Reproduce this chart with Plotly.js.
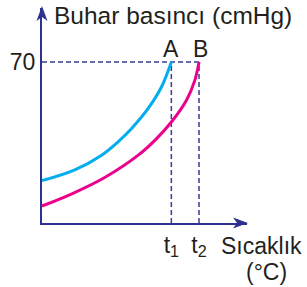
<!DOCTYPE html>
<html>
<head>
<meta charset="utf-8">
<script src="https://cdn.plot.ly/plotly-3.0.1.min.js"></script>
<style>html,body{margin:0;padding:0;background:#fff;}#chart{width:307px;height:287px;}</style>
</head>
<body>
<div id="chart"></div>
<script>
// ---- data ----
const blueX = [0, 1.60, 2.89, 3.71, 4.36, 5.17, 5.82, 6.31];
const blueY = [18.4, 23.1, 29.4, 35.3, 41.0, 49.7, 59.0, 70];
const pinkX = [0, 1.43, 3.06, 4.68, 5.58, 6.31, 7.04, 7.45, 7.66];
const pinkY = [7.4, 12.6, 19.8, 29.4, 36.6, 43.9, 53.3, 61.9, 70];
const tempTicks = [6.31, 7.66];
const tempTickText = ['t<sub>1</sub>', 't<sub>2</sub>'];
const pressureTicks = [70];
const pressureTickText = ['70'];
const pointLabels = ['A', 'B'];
const yTitle = 'Buhar basıncı (cmHg)';
const xTitle1 = 'Sıcaklık';
const xTitle2 = '(°C)';

// ---- layout ----
const W = 307, H = 287;
const M = {l: 42, r: 60, t: 8, b: 64};
const xMax = 10, yMax = 93.48;
const plotW = W - M.l - M.r, plotH = H - M.t - M.b;
const pxX = p => (p - M.l) / plotW;
const pxY = p => (H - M.b - p) / plotH;
const pathPx = pts => 'M' + pts.map(p => pxX(p[0]).toFixed(4) + ',' + pxY(p[1]).toFixed(4)).join(' L') + ' Z';

const FONT = 'Liberation Sans, Arial, sans-serif';
const TXT = '#231f20';
const AX = '#2e3192';

const P = pressureTicks[0];
const t1 = tempTicks[0], t2 = tempTicks[1];

const traces = [
  {x: [0, t2, null, t1, t1, null, t2, t2], y: [P, P, null, 0, P, null, 0, P],
   mode: 'lines', line: {color: '#3b3b98', width: 1.5, dash: '5px,3px'}, hoverinfo: 'skip'},
  {x: blueX, y: blueY, mode: 'lines', line: {color: '#00aeef', width: 3, shape: 'spline', smoothing: 1}},
  {x: pinkX, y: pinkY, mode: 'lines', line: {color: '#ec008c', width: 3, shape: 'spline', smoothing: 1}}
];

const layout = {
  width: W, height: H,
  margin: M,
  paper_bgcolor: '#fff', plot_bgcolor: '#fff',
  showlegend: false,
  font: {family: FONT, color: TXT, size: 23},
  xaxis: {range: [0, xMax], showgrid: false, zeroline: false, showline: true,
          linecolor: AX, linewidth: 2, ticks: '', tickvals: tempTicks, ticktext: tempTickText,
          tickfont: {size: 23, color: TXT, family: FONT}, fixedrange: true},
  yaxis: {range: [0, yMax], showgrid: false, zeroline: false, showline: true,
          linecolor: AX, linewidth: 2, ticks: '', tickvals: pressureTicks, ticktext: pressureTickText,
          tickfont: {size: 23, color: TXT, family: FONT}, fixedrange: true},
  shapes: [
    {type: 'path', xref: 'paper', yref: 'paper',
     path: pathPx([[248, 223], [233, 217.5], [237, 223], [233, 228.5]]),
     fillcolor: AX, line: {width: 0}},
    {type: 'path', xref: 'paper', yref: 'paper',
     path: pathPx([[42, 6], [36.5, 21], [42, 17], [47.5, 21]]),
     fillcolor: AX, line: {width: 0}}
  ],
  annotations: [
    {text: yTitle, xref: 'paper', yref: 'paper', x: pxX(52), y: pxY(15), xanchor: 'left', yanchor: 'middle',
     showarrow: false, font: {size: 24.5, color: TXT, family: FONT}},
    {text: pointLabels[0], xref: 'x', yref: 'y', x: t1, y: P, yshift: 13, xanchor: 'center', yanchor: 'middle',
     showarrow: false, font: {size: 23, color: TXT, family: FONT}},
    {text: pointLabels[1], xref: 'x', yref: 'y', x: t2, y: P, xshift: 1, yshift: 13, xanchor: 'center', yanchor: 'middle',
     showarrow: false, font: {size: 23, color: TXT, family: FONT}},
    {text: xTitle1, xref: 'paper', yref: 'paper', x: pxX(261), y: pxY(246), xanchor: 'center', yanchor: 'middle',
     showarrow: false, font: {size: 23, color: TXT, family: FONT}},
    {text: xTitle2, xref: 'paper', yref: 'paper', x: pxX(266), y: pxY(272), xanchor: 'center', yanchor: 'middle',
     showarrow: false, font: {size: 23, color: TXT, family: FONT}}
  ]
};

Plotly.newPlot('chart', traces, layout, {staticPlot: true, displayModeBar: false});
</script>
</body>
</html>
